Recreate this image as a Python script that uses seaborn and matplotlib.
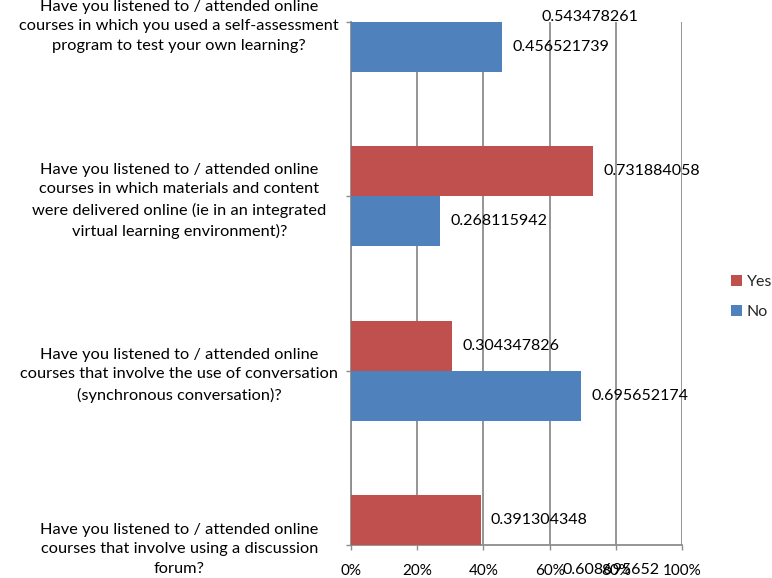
import matplotlib
matplotlib.use("Agg")
import matplotlib.pyplot as plt
from matplotlib.ticker import PercentFormatter
import seaborn as sns
import pandas as pd

questions = [
    "Have you listened to / attended online\ncourses in which you used a self-assessment\nprogram to test your own learning?",
    "Have you listened to / attended online\ncourses in which materials and content\nwere delivered online (ie in an integrated\nvirtual learning environment)?",
    "Have you listened to / attended online\ncourses that involve the use of conversation\n(synchronous conversation)?",
    "Have you listened to / attended online\ncourses that involve using a discussion\nforum?",
]
yes_share = [0.543478261, 0.731884058, 0.304347826, 0.391304348]
no_share = [0.456521739, 0.268115942, 0.695652174, 0.608695652]
answers = ["Yes", "No"]
x_ticks = [0.0, 0.2, 0.4, 0.6, 0.8, 1.0]

df = pd.DataFrame({
    "question": questions * 2,
    "answer": ["Yes"] * len(questions) + ["No"] * len(questions),
    "share": yes_share + no_share,
})

sns.set_theme(style="white")
plt.rcParams["font.family"] = ["Lato", "DejaVu Sans"]

GRID = "#8c8c8c"
palette = {"Yes": "#C0504D", "No": "#4F81BD"}

fig = plt.figure(figsize=(7.72, 5.78), dpi=100)
ax = fig.add_axes([351 / 772, 33 / 578, 331 / 772, 523 / 578])

sns.barplot(data=df, y="question", x="share", hue="answer", hue_order=answers,
            order=questions, palette=palette, orient="h", width=0.574,
            saturation=1, linewidth=0, ax=ax, zorder=3)

ax.set_xlim(0, 1)
ax.set_ylim(3, 0)
ax.set_xticks(x_ticks)
ax.xaxis.set_major_formatter(PercentFormatter(1.0, decimals=0))
ax.set_xlabel("")
ax.set_ylabel("")

ax.grid(axis="x", color=GRID, linewidth=1.3, zorder=0)
ax.grid(axis="y", visible=False)
for side in ("top", "right"):
    ax.spines[side].set_visible(False)
for side in ("left", "bottom"):
    ax.spines[side].set_color(GRID)
    ax.spines[side].set_linewidth(1.3)

ax.tick_params(axis="both", left=True, bottom=True, length=3.6, width=1.0,
               color=GRID, labelcolor="black")
ax.tick_params(axis="x", labelsize=11, pad=10)
# category labels are centred in the block left of the axis
ax.tick_params(axis="y", labelsize=11.8, pad=120)
for lab in ax.get_yticklabels():
    lab.set_horizontalalignment("center")
    lab.set_multialignment("center")
    lab.set_linespacing(1.52)

# value labels next to each bar; keep clipped bars' labels inside the frame
for container in ax.containers:
    for bar in container:
        w = bar.get_width()
        yc = bar.get_y() + bar.get_height() / 2
        yc = max(yc, -0.03)
        ax.annotate(f"{w:.9g}", xy=(w, yc), xytext=(7.5, 0),
                    textcoords="offset points", ha="left", va="center",
                    fontsize=11.5, color="black", annotation_clip=False,
                    zorder=5)

handles, labels = ax.get_legend_handles_labels()
ax.legend(handles, labels, loc="center left",
          bbox_to_anchor=(731 / 772, 1 - 297 / 578),
          bbox_transform=fig.transFigure, frameon=False, fontsize=11.5,
          handlelength=0.7, handleheight=0.7, handletextpad=0.3,
          labelspacing=1.0, borderpad=0, borderaxespad=0)

fig.savefig("out.png", dpi=100)
